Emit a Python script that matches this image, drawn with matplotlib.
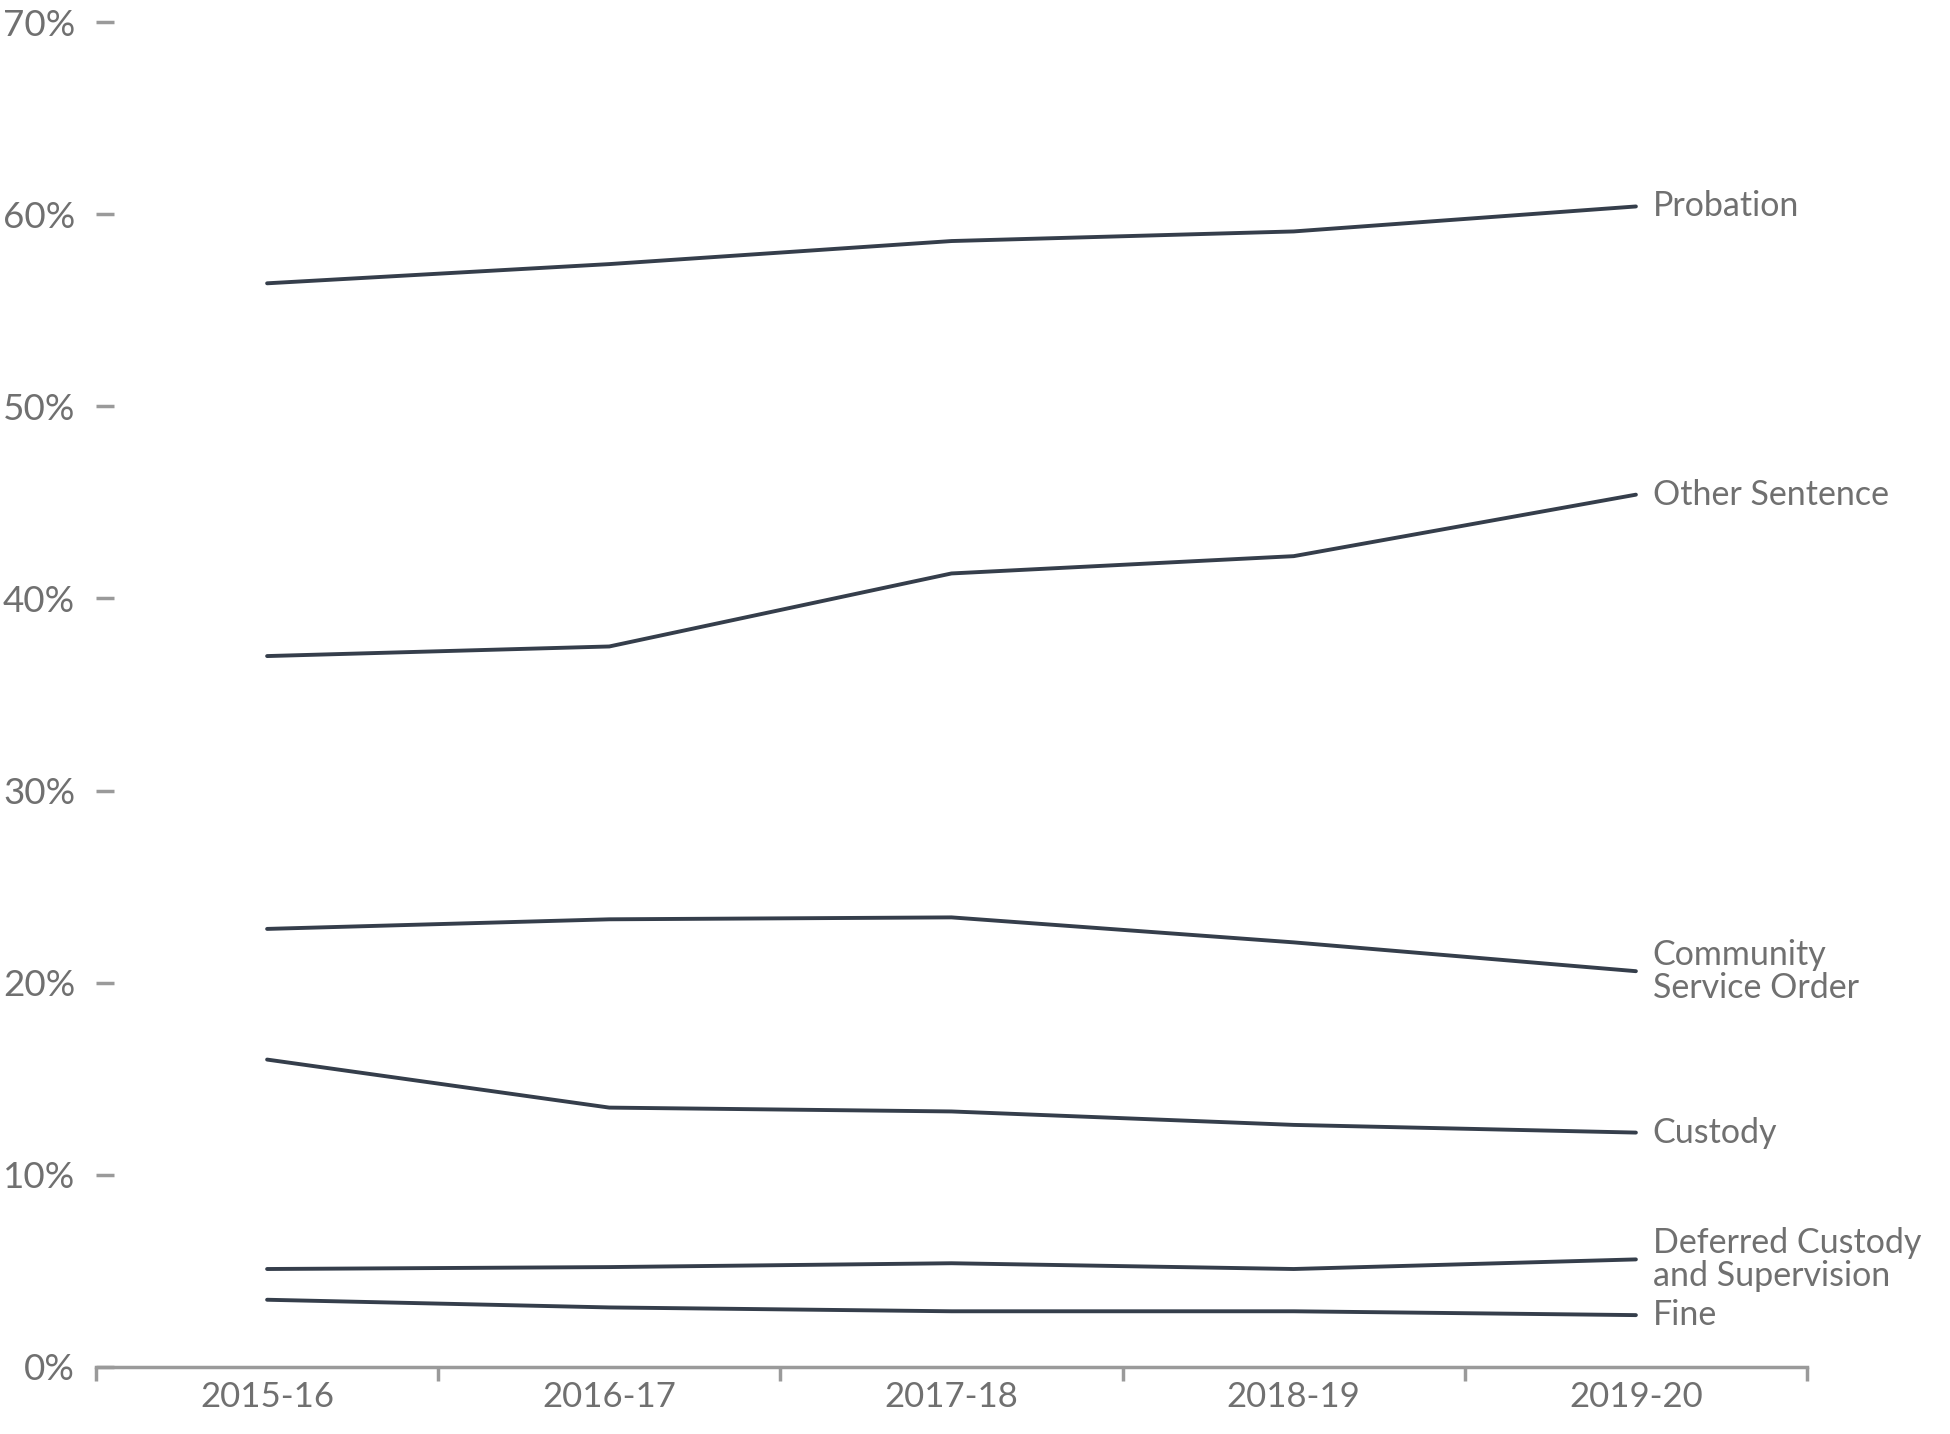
"""Share of sentences by type, 2015-16 to 2019-20 (line chart with end labels)."""

import matplotlib

matplotlib.use("Agg")
import matplotlib.pyplot as plt
from matplotlib.ticker import FixedLocator, PercentFormatter

years = ["2015-16", "2016-17", "2017-18", "2018-19", "2019-20"]

probation = [56.4, 57.4, 58.6, 59.1, 60.4]
other_sentence = [37.0, 37.5, 41.3, 42.2, 45.4]
community_service = [22.8, 23.3, 23.4, 22.1, 20.6]
custody = [16.0, 13.5, 13.3, 12.6, 12.2]
deferred_custody = [5.1, 5.2, 5.4, 5.1, 5.6]
fine = [3.5, 3.1, 2.9, 2.9, 2.7]

series = [
    ("Probation", probation),
    ("Other Sentence", other_sentence),
    ("Community\nService Order", community_service),
    ("Custody", custody),
    ("Deferred Custody\nand Supervision", deferred_custody),
    ("Fine", fine),
]

LINE = "#353e4b"
TEXT = "#707070"
AXIS = "#9a9a9a"


def main() -> None:
    plt.rcParams["font.family"] = ["Lato", "DejaVu Sans"]

    fig = plt.figure(figsize=(19.5, 14.34), dpi=100)
    ax = fig.add_axes([96 / 1950, 67 / 1434, (1807 - 96) / 1950, (1367 - 22) / 1434])

    x = list(range(len(years)))
    for label, values in series:
        ax.plot(x, values, color=LINE, lw=2.8, solid_capstyle="round")
        ax.annotate(label, xy=(x[-1], values[-1]), xytext=(12, 0),
                    textcoords="offset points", va="center", ha="left",
                    fontsize=24.5, color=TEXT, linespacing=1.05,
                    annotation_clip=False)

    ax.set_xlim(-0.5, len(years) - 0.5)
    ax.set_ylim(0, 70)

    for side in ("top", "right", "left"):
        ax.spines[side].set_visible(False)
    ax.spines["bottom"].set_color(AXIS)
    ax.spines["bottom"].set_linewidth(2.5)

    ax.set_xticks(x)
    ax.set_xticklabels(years)
    ax.xaxis.set_minor_locator(FixedLocator([i - 0.5 for i in range(len(years) + 1)]))
    ax.tick_params(axis="x", which="major", length=0, pad=10, labelsize=25, labelcolor=TEXT)
    ax.tick_params(axis="x", which="minor", length=10, width=2.5, color=AXIS, direction="out")

    ax.set_yticks(range(0, 71, 10))
    ax.yaxis.set_major_formatter(PercentFormatter(decimals=0))
    ax.tick_params(axis="y", length=13, width=2.5, color=AXIS, direction="in",
                   pad=15, labelsize=26.5, labelcolor=TEXT)

    fig.savefig("out.png", dpi=100)
    plt.close(fig)


if __name__ == "__main__":
    main()
